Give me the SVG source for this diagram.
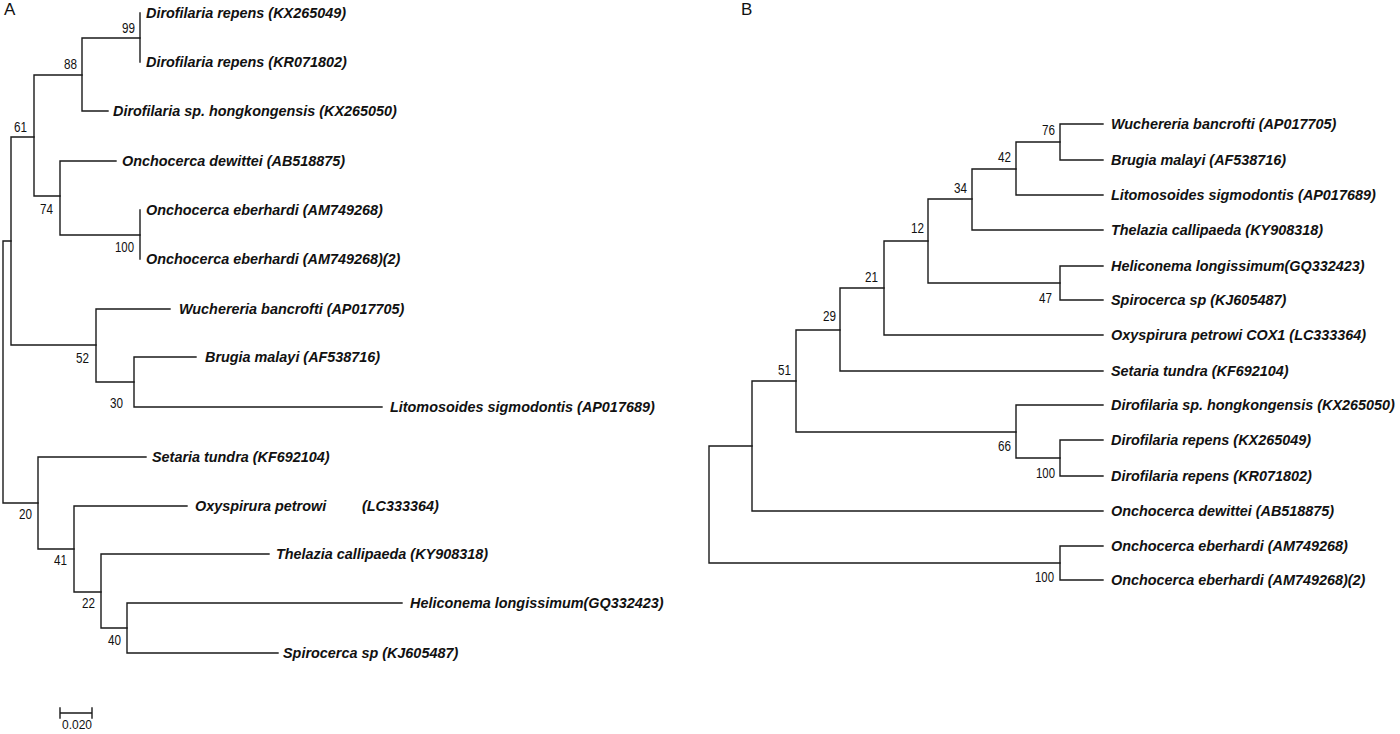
<svg xmlns="http://www.w3.org/2000/svg" width="1400" height="734" viewBox="0 0 1400 734">
<style>
.e{fill:none;stroke:#1a1a1a;stroke-width:1.4;stroke-linecap:square}
.t{font-family:"Liberation Sans",Arial,sans-serif;font-weight:bold;font-style:italic;font-size:14.4px;fill:#111}
.b{font-family:"Liberation Sans",Arial,sans-serif;font-size:14px;fill:#111;text-anchor:end}
.p{font-family:"Liberation Sans",Arial,sans-serif;font-size:17px;fill:#111}
.s{font-family:"Liberation Sans",Arial,sans-serif;font-size:12px;fill:#111;text-anchor:middle}
</style>
<rect width="1400" height="734" fill="#fff"/>
<text class="p" x="4" y="15">A</text>
<text class="p" x="741" y="15">B</text>

<g id="connectors">
<!-- Tree A -->
<path class="e" d="M140,13V62"/>
<path class="e" d="M82,38V111M82,38H140M82,111H108"/>
<path class="e" d="M34,75V196M34,75H82M34,196H60"/>
<path class="e" d="M60,161V235M60,161H116M60,235H140"/>
<path class="e" d="M140,210V259"/>
<path class="e" d="M11,137V345M11,137H34M11,345H96"/>
<path class="e" d="M96,309V382M96,309H170M96,382H134"/>
<path class="e" d="M134,357V407M134,357H196M134,407H382"/>
<path class="e" d="M3,241V503M3,241H11M3,503H38"/>
<path class="e" d="M38,457V549M38,457H146M38,549H74"/>
<path class="e" d="M74,506V592M74,506H187M74,592H101"/>
<path class="e" d="M101,554V628M101,554H269M101,628H127"/>
<path class="e" d="M127,603V653M127,603H402M127,653H278"/>
<!-- scale bar -->
<path class="e" d="M60,713H92M60,708V718M92,708V718"/>
<!-- Tree B -->
<path class="e" d="M1060,124V160M1060,124H1103M1060,160H1103"/>
<path class="e" d="M1016,142V195M1016,142H1060M1016,195H1103"/>
<path class="e" d="M972,169V230M972,169H1016M972,230H1103"/>
<path class="e" d="M928,199V283M928,199H972M928,283H1060"/>
<path class="e" d="M1060,266V300M1060,266H1103M1060,300H1103"/>
<path class="e" d="M884,241V335M884,241H928M884,335H1103"/>
<path class="e" d="M840,288V371M840,288H884M840,371H1103"/>
<path class="e" d="M796,330V432M796,330H840M796,432H1016"/>
<path class="e" d="M1016,405V458M1016,405H1103M1016,458H1060"/>
<path class="e" d="M1060,440V476M1060,440H1103M1060,476H1103"/>
<path class="e" d="M752,381V511M752,381H796M752,511H1103"/>
<path class="e" d="M709,446V563M709,446H752M709,563H1060"/>
<path class="e" d="M1060,546V580M1060,546H1103M1060,580H1103"/>
</g>

<g id="scale"><text class="s" x="77" y="729">0.020</text></g>

<!-- Tree A internal nodes -->
<g id="a-n99"><text class="b" x="135" y="33" textLength="13" lengthAdjust="spacingAndGlyphs">99</text></g>
<g id="a-n88"><text class="b" x="77" y="69" textLength="13" lengthAdjust="spacingAndGlyphs">88</text></g>
<g id="a-n61"><text class="b" x="27" y="132" textLength="13" lengthAdjust="spacingAndGlyphs">61</text></g>
<g id="a-n74"><text class="b" x="53" y="214" textLength="13" lengthAdjust="spacingAndGlyphs">74</text></g>
<g id="a-n100"><text class="b" x="134" y="252" textLength="19" lengthAdjust="spacingAndGlyphs">100</text></g>
<g id="a-n52"><text class="b" x="89" y="363" textLength="13" lengthAdjust="spacingAndGlyphs">52</text></g>
<g id="a-n30"><text class="b" x="123" y="408" textLength="13" lengthAdjust="spacingAndGlyphs">30</text></g>
<g id="a-n20"><text class="b" x="32" y="519" textLength="13" lengthAdjust="spacingAndGlyphs">20</text></g>
<g id="a-n41"><text class="b" x="67" y="565" textLength="13" lengthAdjust="spacingAndGlyphs">41</text></g>
<g id="a-n22"><text class="b" x="95" y="608" textLength="13" lengthAdjust="spacingAndGlyphs">22</text></g>
<g id="a-n40"><text class="b" x="121" y="645" textLength="13" lengthAdjust="spacingAndGlyphs">40</text></g>

<!-- Tree A leaves -->
<g id="a-drep1"><text class="t" x="146" y="18">Dirofilaria repens (KX265049)</text></g>
<g id="a-drep2"><text class="t" x="146" y="67">Dirofilaria repens (KR071802)</text></g>
<g id="a-dhk"><text class="t" x="113" y="116">Dirofilaria sp. hongkongensis (KX265050)</text></g>
<g id="a-odew"><text class="t" x="122" y="166">Onchocerca dewittei (AB518875)</text></g>
<g id="a-oeb1"><text class="t" x="146" y="215">Onchocerca eberhardi (AM749268)</text></g>
<g id="a-oeb2"><text class="t" x="146" y="264">Onchocerca eberhardi (AM749268)(2)</text></g>
<g id="a-wuc"><text class="t" x="179" y="314">Wuchereria bancrofti (AP017705)</text></g>
<g id="a-bru"><text class="t" x="205" y="362">Brugia malayi (AF538716)</text></g>
<g id="a-lit"><text class="t" x="390" y="412">Litomosoides sigmodontis (AP017689)</text></g>
<g id="a-set"><text class="t" x="152" y="462">Setaria tundra (KF692104)</text></g>
<g id="a-oxy"><text class="t" x="195" y="511">Oxyspirura petrowi<tspan x="362">(LC333364)</tspan></text></g>
<g id="a-the"><text class="t" x="276" y="559">Thelazia callipaeda (KY908318)</text></g>
<g id="a-hel"><text class="t" x="410" y="608">Heliconema longissimum(GQ332423)</text></g>
<g id="a-spi"><text class="t" x="283" y="658">Spirocerca sp (KJ605487)</text></g>

<!-- Tree B internal nodes -->
<g id="b-n76"><text class="b" x="1055" y="135" textLength="13" lengthAdjust="spacingAndGlyphs">76</text></g>
<g id="b-n42"><text class="b" x="1011" y="162" textLength="13" lengthAdjust="spacingAndGlyphs">42</text></g>
<g id="b-n34"><text class="b" x="967" y="193" textLength="13" lengthAdjust="spacingAndGlyphs">34</text></g>
<g id="b-n12"><text class="b" x="924" y="233" textLength="13" lengthAdjust="spacingAndGlyphs">12</text></g>
<g id="b-n47"><text class="b" x="1052" y="303" textLength="13" lengthAdjust="spacingAndGlyphs">47</text></g>
<g id="b-n21"><text class="b" x="878" y="282" textLength="13" lengthAdjust="spacingAndGlyphs">21</text></g>
<g id="b-n29"><text class="b" x="836" y="321" textLength="13" lengthAdjust="spacingAndGlyphs">29</text></g>
<g id="b-n51"><text class="b" x="791" y="375" textLength="13" lengthAdjust="spacingAndGlyphs">51</text></g>
<g id="b-n66"><text class="b" x="1011" y="451" textLength="13" lengthAdjust="spacingAndGlyphs">66</text></g>
<g id="b-n100a"><text class="b" x="1055" y="478" textLength="19" lengthAdjust="spacingAndGlyphs">100</text></g>
<g id="b-n100b"><text class="b" x="1054" y="582" textLength="19" lengthAdjust="spacingAndGlyphs">100</text></g>

<!-- Tree B leaves -->
<g id="b-wuc"><text class="t" x="1111" y="129">Wuchereria bancrofti (AP017705)</text></g>
<g id="b-bru"><text class="t" x="1111" y="165">Brugia malayi (AF538716)</text></g>
<g id="b-lit"><text class="t" x="1111" y="200">Litomosoides sigmodontis (AP017689)</text></g>
<g id="b-the"><text class="t" x="1111" y="235">Thelazia callipaeda (KY908318)</text></g>
<g id="b-hel"><text class="t" x="1111" y="271">Heliconema longissimum(GQ332423)</text></g>
<g id="b-spi"><text class="t" x="1111" y="305">Spirocerca sp (KJ605487)</text></g>
<g id="b-oxy"><text class="t" x="1111" y="340">Oxyspirura petrowi COX1 (LC333364)</text></g>
<g id="b-set"><text class="t" x="1111" y="376">Setaria tundra (KF692104)</text></g>
<g id="b-dhk"><text class="t" x="1111" y="410">Dirofilaria sp. hongkongensis (KX265050)</text></g>
<g id="b-drep1"><text class="t" x="1111" y="445">Dirofilaria repens (KX265049)</text></g>
<g id="b-drep2"><text class="t" x="1111" y="481">Dirofilaria repens (KR071802)</text></g>
<g id="b-odew"><text class="t" x="1111" y="516">Onchocerca dewittei (AB518875)</text></g>
<g id="b-oeb1"><text class="t" x="1111" y="551">Onchocerca eberhardi (AM749268)</text></g>
<g id="b-oeb2"><text class="t" x="1111" y="585">Onchocerca eberhardi (AM749268)(2)</text></g>
</svg>
